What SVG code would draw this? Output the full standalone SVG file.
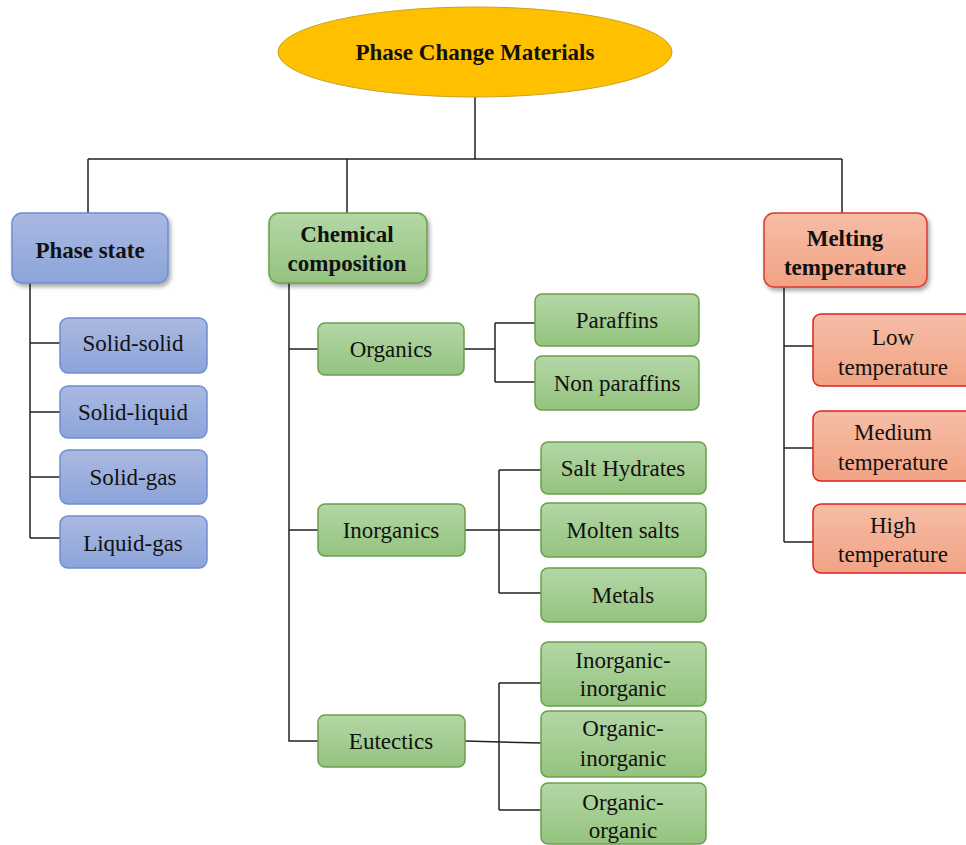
<svg xmlns="http://www.w3.org/2000/svg" width="966" height="845" viewBox="0 0 966 845">
<defs>
<linearGradient id="gBlue" x1="0" y1="0" x2="0" y2="1"><stop offset="0" stop-color="#AAB9E2"/><stop offset="1" stop-color="#8CA4D9"/></linearGradient>
<linearGradient id="gGreen" x1="0" y1="0" x2="0" y2="1"><stop offset="0" stop-color="#B4D7A6"/><stop offset="1" stop-color="#94C37E"/></linearGradient>
<linearGradient id="gRed" x1="0" y1="0" x2="0" y2="1"><stop offset="0" stop-color="#F6BDA6"/><stop offset="1" stop-color="#F1A384"/></linearGradient>
<filter id="shadow" x="-10%" y="-10%" width="130%" height="140%"><feDropShadow dx="2" dy="3" stdDeviation="2" flood-color="#000" flood-opacity="0.35"/></filter>
<style>
text{font-family:"Liberation Serif","Times New Roman",serif;font-size:23px;fill:#111;text-anchor:middle}
.b{font-weight:bold}
.blue{fill:url(#gBlue);stroke:#6E8FD0;stroke-width:1.5}
.green{fill:url(#gGreen);stroke:#6AA04C;stroke-width:1.5}
.red{fill:url(#gRed);stroke:#D93A32;stroke-width:1.5}
.redc{fill:url(#gRed);stroke:#E0201E;stroke-width:1.5}
.main{filter:url(#shadow)}
.conn{fill:none;stroke:#222;stroke-width:1.5}
</style>
</defs>
<g id="connectors" class="conn">
<path d="M475 97V159M88 159H842M88 159V213M347 159V213M842 159V213"/>
<path d="M30 283V538M30 343H60M30 412H60M30 477H60M30 538H60"/>
<path d="M289 283V741H318M289 349H318M289 530H318"/>
<path d="M464 349H495M495 323V382M495 323H535M495 382H535"/>
<path d="M465 530H541M499 470V593M499 470H541M499 593H541"/>
<path d="M465 741L541 743M499 683V810M499 683H541M499 810H541"/>
<path d="M784 287V542M784 346H813M784 448H813M784 542H813"/>
</g>
<g id="root"><ellipse cx="475" cy="52" rx="197" ry="45" fill="#FFC000" stroke="#C9A227" stroke-width="1"/><text x="475" y="60" class="b">Phase Change Materials</text></g>
<g id="phase-state"><rect class="blue main" x="12" y="213" width="156" height="70" rx="10"/><text x="90" y="258" class="b">Phase state</text></g>
<g id="solid-solid"><rect class="blue" x="60" y="318" width="147" height="55" rx="8"/><text x="133" y="351">Solid-solid</text></g>
<g id="solid-liquid"><rect class="blue" x="60" y="386" width="147" height="52" rx="8"/><text x="133" y="420">Solid-liquid</text></g>
<g id="solid-gas"><rect class="blue" x="60" y="450" width="147" height="54" rx="8"/><text x="133" y="485">Solid-gas</text></g>
<g id="liquid-gas"><rect class="blue" x="60" y="516" width="147" height="52" rx="8"/><text x="133" y="551">Liquid-gas</text></g>
<g id="chemical"><rect class="green main" x="269" y="213" width="158" height="70" rx="10"/><text x="347" y="242" class="b">Chemical</text><text x="347" y="271" class="b">composition</text></g>
<g id="organics"><rect class="green" x="318" y="323" width="146" height="52" rx="7"/><text x="391" y="357">Organics</text></g>
<g id="paraffins"><rect class="green" x="535" y="294" width="164" height="52" rx="7"/><text x="617" y="328">Paraffins</text></g>
<g id="non-paraffins"><rect class="green" x="535" y="356" width="164" height="54" rx="7"/><text x="617" y="391">Non paraffins</text></g>
<g id="inorganics"><rect class="green" x="318" y="504" width="147" height="52" rx="7"/><text x="391" y="538">Inorganics</text></g>
<g id="salt-hydrates"><rect class="green" x="541" y="442" width="165" height="52" rx="7"/><text x="623" y="476">Salt Hydrates</text></g>
<g id="molten-salts"><rect class="green" x="541" y="503" width="165" height="54" rx="7"/><text x="623" y="538">Molten salts</text></g>
<g id="metals"><rect class="green" x="541" y="568" width="165" height="54" rx="7"/><text x="623" y="603">Metals</text></g>
<g id="eutectics"><rect class="green" x="318" y="715" width="147" height="52" rx="7"/><text x="391" y="749">Eutectics</text></g>
<g id="inorganic-inorganic"><rect class="green" x="541" y="642" width="165" height="64" rx="7"/><text x="623" y="668">Inorganic-</text><text x="623" y="696">inorganic</text></g>
<g id="organic-inorganic"><rect class="green" x="541" y="711" width="165" height="66" rx="7"/><text x="623" y="736">Organic-</text><text x="623" y="766">inorganic</text></g>
<g id="organic-organic"><rect class="green" x="541" y="783" width="165" height="61" rx="7"/><text x="623" y="810">Organic-</text><text x="623" y="838">organic</text></g>
<g id="melting"><rect class="red main" x="764" y="213" width="163" height="74" rx="10"/><text x="845" y="246" class="b">Melting</text><text x="845" y="275" class="b">temperature</text></g>
<g id="low"><rect class="redc" x="813" y="314" width="165" height="72" rx="8"/><text x="893" y="345">Low</text><text x="893" y="375">temperature</text></g>
<g id="medium"><rect class="redc" x="813" y="411" width="165" height="70" rx="8"/><text x="893" y="440">Medium</text><text x="893" y="470">temperature</text></g>
<g id="high"><rect class="redc" x="813" y="504" width="165" height="69" rx="8"/><text x="893" y="533">High</text><text x="893" y="562">temperature</text></g>
</svg>
